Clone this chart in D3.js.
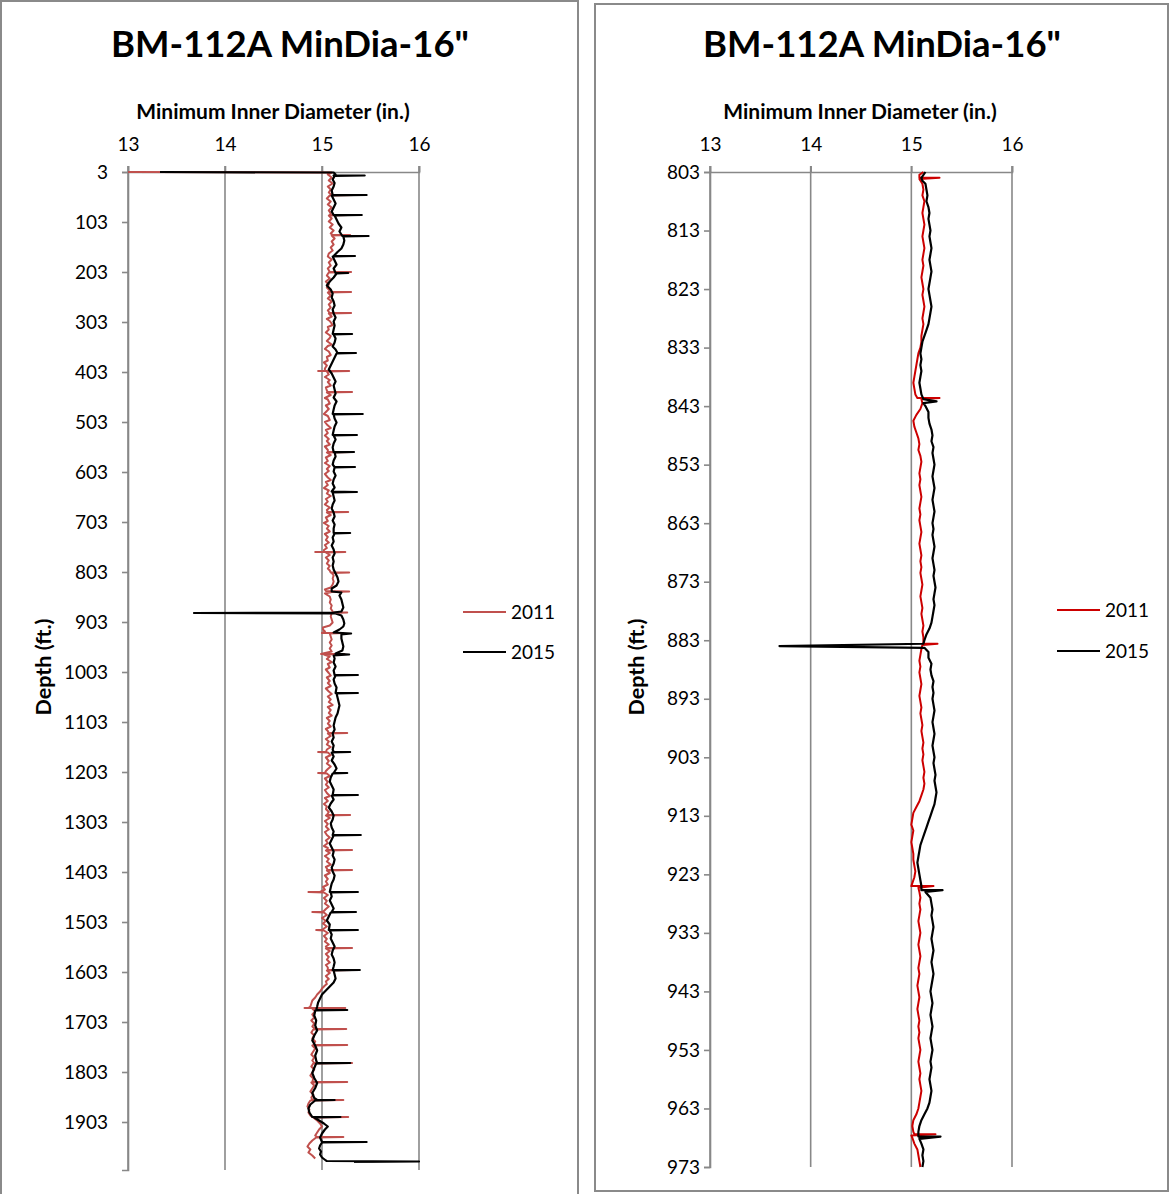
<!DOCTYPE html>
<html><head><meta charset="utf-8">
<script src="https://cdn.jsdelivr.net/npm/d3@7"></script>
<style>
body{margin:0;background:#fff;}
svg{display:block;}
text{font-family:Lato,"Carlito",sans-serif;fill:#000;}
</style>
</head><body>
<svg id="c" width="1171" height="1194"></svg>
<script>
const chartTitle = 'BM-112A MinDia-16"';
const xTitle = "Minimum Inner Diameter (in.)";
const yTitle = "Depth (ft.)";
const seriesNames = ["2011", "2015"];
const xTicks = [13, 14, 15, 16];
const leftDepthTicks = [3,103,203,303,403,503,603,703,803,903,1003,1103,1203,1303,1403,1503,1603,1703,1803,1903];
const rightDepthTicks = [803,813,823,833,843,853,863,873,883,893,903,913,923,933,943,953,963,973];

// [depth ft, min inner diameter in.]
const left2011 = [[3,13.0],[4,15.1],[8,15.06],[14,15.1],[20,15.07],[26,15.11],[32,15.06],[38,15.09],[44,15.07],[49,15.1],[49,15.33],[50,15.08],[56,15.05],[62,15.09],[68,15.06],[74,15.1],[80,15.07],[86,15.09],[89,15.08],[89,15.27],[90,15.07],[96,15.1],[102,15.07],[108,15.11],[114,15.08],[120,15.12],[126,15.09],[129,15.11],[129,15.29],[130,15.1],[136,15.13],[142,15.1],[148,15.12],[154,15.09],[160,15.11],[166,15.07],[172,15.06],[178,15.1],[184,15.07],[190,15.09],[196,15.06],[203,15.08],[203,15.3],[204,15.07],[210,15.05],[216,15.08],[222,15.04],[228,15.07],[234,15.05],[240,15.08],[243,15.07],[243,15.3],[244,15.06],[250,15.09],[256,15.06],[262,15.1],[268,15.07],[274,15.09],[280,15.06],[285,15.08],[285,15.3],[286,15.07],[292,15.1],[297,15.05],[301,15.08],[309,15.11],[313,15.06],[318,15.07],[324,15.04],[331,15.09],[335,15.08],[341,15.05],[348,15.1],[351,15.06],[357,15.03],[362,15.07],[369,15.09],[373,15.05],[380,15.06],[384,15.02],[390,15.05],[396,15.03],[401,15.03],[401,14.96],[401,15.28],[402,15.05],[408,15.07],[413,15.03],[419,15.08],[423,15.06],[430,15.09],[434,15.04],[440,15.05],[443,15.06],[443,15.31],[444,15.05],[449,15.09],[455,15.03],[458,15.06],[466,15.08],[470,15.04],[477,15.07],[481,15.05],[487,15.02],[491,15.06],[499,15.08],[503,15.03],[508,15.05],[515,15.09],[519,15.04],[525,15.06],[530,15.03],[537,15.07],[541,15.05],[548,15.08],[552,15.03],[559,15.06],[563,15.06],[563,15.3],[564,15.05],[569,15.09],[574,15.04],[581,15.06],[585,15.03],[591,15.08],[597,15.05],[601,15.07],[607,15.03],[614,15.06],[619,15.09],[623,15.04],[629,15.06],[635,15.02],[640,15.07],[646,15.05],[651,15.09],[657,15.04],[662,15.06],[668,15.03],[674,15.08],[679,15.05],[683,15.06],[683,15.27],[684,15.05],[689,15.09],[694,15.04],[701,15.06],[705,15.02],[711,15.07],[716,15.05],[722,15.08],[727,15.03],[733,15.06],[739,15.04],[744,15.07],[749,15.03],[755,15.05],[759,15.02],[763,15.02],[763,14.93],[763,15.24],[764,15.04],[769,15.08],[774,15.04],[780,15.07],[786,15.05],[791,15.08],[796,15.06],[800,15.08],[804,15.09],[804,15.28],[805,15.1],[810,15.12],[816,15.11],[822,15.12],[828,15.11],[834,15.09],[838,15.03],[841,15.04],[842,15.28],[843,15.1],[846,15.03],[852,15.08],[858,15.09],[864,15.08],[870,15.1],[876,15.09],[882,15.11],[884,15.11],[884,15.26],[885,15.1],[892,15.09],[898,15.1],[904,15.11],[910,15.08],[914,15.01],[918,15.01],[922,15.03],[925,15.0],[925,15.22],[926,15.08],[932,15.09],[938,15.1],[944,15.08],[950,15.1],[956,15.08],[962,15.1],[966,15.01],[967,14.99],[967,15.23],[968,15.02],[972,15.08],[977,15.05],[983,15.1],[987,15.06],[994,15.08],[998,15.04],[1005,15.07],[1010,15.09],[1014,15.05],[1021,15.08],[1025,15.06],[1031,15.09],[1036,15.04],[1042,15.07],[1047,15.1],[1052,15.06],[1058,15.09],[1063,15.07],[1069,15.11],[1073,15.06],[1079,15.09],[1085,15.07],[1090,15.1],[1095,15.05],[1101,15.08],[1106,15.06],[1112,15.09],[1117,15.04],[1121,15.06],[1125,15.07],[1125,15.26],[1126,15.06],[1131,15.09],[1137,15.04],[1142,15.07],[1148,15.05],[1153,15.09],[1158,15.05],[1163,15.04],[1163,14.96],[1164,15.06],[1169,15.09],[1174,15.04],[1181,15.07],[1186,15.05],[1192,15.09],[1197,15.06],[1201,15.04],[1205,15.03],[1205,14.96],[1206,15.05],[1211,15.08],[1216,15.03],[1223,15.06],[1228,15.04],[1234,15.07],[1239,15.03],[1245,15.05],[1251,15.08],[1255,15.03],[1261,15.06],[1267,15.02],[1272,15.05],[1277,15.04],[1283,15.07],[1289,15.05],[1289,15.29],[1290,15.04],[1295,15.08],[1301,15.03],[1307,15.06],[1312,15.04],[1318,15.07],[1323,15.03],[1329,15.05],[1334,15.08],[1340,15.04],[1345,15.06],[1351,15.02],[1355,15.06],[1359,15.05],[1359,15.31],[1360,15.04],[1365,15.08],[1371,15.03],[1377,15.07],[1382,15.05],[1388,15.09],[1393,15.04],[1399,15.06],[1399,15.31],[1400,15.05],[1405,15.08],[1410,15.03],[1417,15.06],[1422,15.04],[1428,15.06],[1433,15.01],[1438,15.03],[1443,14.98],[1443,14.86],[1444,15.02],[1449,15.06],[1455,15.02],[1461,15.05],[1466,15.03],[1472,15.07],[1477,15.04],[1481,15.02],[1483,15.0],[1483,14.9],[1484,15.02],[1489,15.05],[1495,15.0],[1501,15.04],[1506,15.01],[1512,15.05],[1516,15.02],[1519,15.0],[1519,14.94],[1520,15.02],[1525,15.06],[1531,15.02],[1537,15.05],[1542,15.03],[1548,15.07],[1552,15.04],[1555,15.05],[1555,15.31],[1556,15.04],[1561,15.08],[1567,15.04],[1573,15.07],[1578,15.05],[1584,15.08],[1589,15.04],[1594,15.06],[1599,15.06],[1599,15.31],[1600,15.05],[1605,15.08],[1611,15.04],[1617,15.07],[1622,15.04],[1627,15.05],[1630,15.03],[1636,15.0],[1642,14.98],[1648,14.95],[1654,14.93],[1660,14.9],[1666,14.89],[1672,14.88],[1675,14.86],[1675,14.82],[1675,15.24],[1676,14.9],[1682,14.93],[1688,14.9],[1694,14.92],[1700,14.89],[1706,14.92],[1712,14.9],[1717,14.93],[1717,15.25],[1718,14.91],[1724,14.89],[1730,14.92],[1736,14.9],[1742,14.93],[1749,14.91],[1749,15.26],[1750,14.9],[1756,14.93],[1762,14.91],[1768,14.89],[1774,14.92],[1780,14.9],[1785,14.92],[1785,15.31],[1786,14.91],[1792,14.89],[1798,14.92],[1804,14.9],[1810,14.88],[1816,14.91],[1823,14.9],[1823,15.26],[1824,14.89],[1830,14.92],[1836,14.9],[1842,14.88],[1848,14.91],[1854,14.89],[1859,14.9],[1859,15.22],[1860,14.88],[1866,14.86],[1872,14.85],[1878,14.87],[1884,14.86],[1890,14.88],[1893,14.9],[1893,15.27],[1894,14.91],[1900,14.95],[1906,14.98],[1912,15.0],[1918,14.97],[1924,14.95],[1930,14.93],[1933,14.95],[1933,15.22],[1934,14.94],[1940,14.9],[1946,14.87],[1952,14.85],[1958,14.88],[1964,14.86],[1970,14.9],[1976,14.93]];

const left2015 = [[3,13.33],[4,15.12],[8,15.14],[10,15.12],[10,15.44],[11,15.13],[18,15.11],[25,15.13],[32,15.12],[40,15.1],[49,15.11],[49,15.46],[50,15.1],[58,15.12],[66,15.14],[74,15.12],[82,15.1],[89,15.12],[89,15.41],[90,15.13],[98,15.15],[106,15.17],[114,15.2],[122,15.18],[131,15.21],[131,15.48],[132,15.22],[140,15.23],[148,15.22],[156,15.2],[163,15.16],[171,15.12],[171,15.34],[172,15.11],[180,15.13],[188,15.15],[196,15.12],[205,15.14],[205,15.27],[206,15.15],[214,15.12],[222,15.08],[230,15.05],[238,15.09],[246,15.11],[254,15.1],[262,15.12],[270,15.13],[278,15.11],[286,15.12],[294,15.14],[302,15.12],[310,15.13],[318,15.12],[327,15.11],[327,15.31],[328,15.12],[336,15.14],[344,15.13],[352,15.11],[358,15.14],[365,15.16],[365,15.35],[366,15.15],[374,15.13],[382,15.11],[390,15.09],[398,15.07],[406,15.1],[414,15.12],[422,15.14],[430,15.12],[438,15.13],[446,15.14],[454,15.12],[462,15.15],[470,15.13],[478,15.12],[487,15.11],[487,15.42],[488,15.12],[496,15.13],[504,15.15],[512,15.13],[520,15.12],[529,15.11],[529,15.36],[530,15.12],[538,15.14],[546,15.12],[554,15.11],[563,15.12],[563,15.33],[564,15.13],[572,15.14],[580,15.12],[588,15.11],[593,15.13],[593,15.34],[594,15.13],[602,15.12],[610,15.14],[618,15.12],[626,15.11],[634,15.13],[642,15.1],[643,15.36],[644,15.11],[652,15.12],[660,15.13],[668,15.11],[676,15.1],[684,15.12],[692,15.13],[700,15.11],[708,15.13],[716,15.12],[725,15.12],[725,15.29],[726,15.13],[734,15.11],[742,15.12],[750,15.1],[758,15.12],[766,15.13],[774,15.11],[782,15.12],[790,15.11],[798,15.12],[806,15.14],[814,15.16],[822,15.17],[830,15.15],[836,15.1],[842,15.1],[844,15.2],[850,15.18],[858,15.2],[866,15.21],[874,15.22],[882,15.2],[884,15.12],[885,13.68],[886,15.14],[890,15.2],[898,15.22],[906,15.23],[912,15.22],[918,15.18],[924,15.12],[926,15.3],[928,15.2],[936,15.2],[944,15.21],[952,15.22],[960,15.21],[966,15.14],[968,15.28],[970,15.12],[976,15.13],[984,15.12],[992,15.14],[1000,15.12],[1009,15.13],[1009,15.37],[1010,15.14],[1018,15.12],[1026,15.13],[1034,15.15],[1045,15.14],[1045,15.37],[1046,15.15],[1054,15.16],[1062,15.17],[1070,15.18],[1078,15.17],[1086,15.16],[1094,15.14],[1102,15.13],[1110,15.12],[1118,15.13],[1126,15.11],[1134,15.12],[1142,15.1],[1150,15.12],[1158,15.11],[1163,15.12],[1163,15.29],[1164,15.1],[1172,15.12],[1180,15.1],[1188,15.13],[1196,15.15],[1205,15.12],[1205,15.26],[1206,15.11],[1214,15.09],[1222,15.08],[1230,15.1],[1238,15.12],[1249,15.11],[1249,15.37],[1250,15.1],[1258,15.12],[1266,15.09],[1274,15.07],[1282,15.1],[1290,15.12],[1298,15.11],[1306,15.09],[1314,15.1],[1322,15.12],[1329,15.11],[1329,15.4],[1330,15.12],[1338,15.1],[1346,15.08],[1354,15.1],[1362,15.12],[1370,15.11],[1378,15.13],[1386,15.12],[1394,15.1],[1402,15.11],[1410,15.13],[1418,15.12],[1426,15.1],[1434,15.09],[1443,15.08],[1443,15.37],[1444,15.09],[1452,15.1],[1460,15.08],[1468,15.1],[1476,15.12],[1483,15.1],[1483,15.35],[1484,15.09],[1492,15.07],[1500,15.05],[1508,15.08],[1519,15.07],[1519,15.37],[1520,15.08],[1528,15.1],[1536,15.09],[1544,15.11],[1552,15.13],[1560,15.11],[1568,15.1],[1576,15.12],[1584,15.13],[1592,15.12],[1599,15.11],[1599,15.39],[1600,15.12],[1608,15.13],[1616,15.14],[1624,15.12],[1632,15.08],[1640,15.04],[1648,15.0],[1656,14.98],[1664,14.96],[1672,14.95],[1679,14.94],[1679,15.26],[1680,14.93],[1690,14.92],[1700,14.94],[1710,14.93],[1720,14.95],[1730,14.92],[1740,14.9],[1750,14.93],[1760,14.95],[1770,14.93],[1780,14.94],[1785,14.95],[1785,15.29],[1786,14.94],[1795,14.92],[1805,14.9],[1815,14.92],[1825,14.95],[1835,14.93],[1845,14.9],[1855,14.92],[1859,14.95],[1859,15.13],[1860,14.93],[1868,14.88],[1876,14.86],[1884,14.87],[1893,14.9],[1893,15.19],[1894,14.92],[1900,14.97],[1906,15.02],[1912,15.06],[1918,15.03],[1926,15.0],[1934,14.98],[1943,15.0],[1943,15.46],[1944,15.0],[1950,14.98],[1956,14.97],[1962,14.99],[1968,14.98],[1974,15.0],[1980,15.04],[1981,15.05],[1982,16.0],[1983,15.33]];

const right2011 = [[803,15.12],[803.5,15.08],[804,15.08],[804,15.28],[804.2,15.08],[805,15.11],[806,15.12],[807,15.11],[808,15.13],[809,15.12],[810,15.11],[811,15.12],[812,15.13],[813,15.12],[814,15.11],[815,15.12],[816,15.13],[817,15.12],[818,15.11],[819,15.12],[820,15.11],[821,15.1],[822,15.11],[823,15.12],[824,15.11],[825,15.12],[826,15.13],[827,15.12],[828,15.11],[829,15.12],[830,15.11],[831,15.1],[832,15.1],[833,15.09],[834,15.07],[835,15.06],[836,15.05],[837,15.04],[838,15.03],[839,15.02],[840,15.03],[841,15.04],[841.6,15.06],[841.6,15.28],[841.8,15.1],[842.5,15.11],[843.5,15.09],[844.5,15.05],[845.5,15.02],[846.5,15.03],[847.5,15.05],[848.5,15.07],[849.5,15.08],[850.5,15.07],[851.5,15.09],[852.5,15.1],[853.5,15.09],[854.5,15.08],[855.5,15.09],[856.5,15.08],[857.5,15.09],[858.5,15.1],[859.5,15.09],[860.5,15.08],[861.5,15.09],[862.5,15.08],[863.5,15.09],[864.5,15.1],[865.5,15.09],[866.5,15.08],[867.5,15.09],[868.5,15.1],[869.5,15.09],[870.5,15.1],[871.5,15.09],[872.5,15.1],[873.5,15.11],[874.5,15.1],[875.5,15.09],[876.5,15.1],[877.5,15.11],[878.5,15.1],[879.5,15.11],[880.5,15.12],[881.5,15.11],[882.5,15.12],[883.6,15.12],[883.6,15.26],[883.8,15.11],[884.5,15.1],[885.5,15.09],[886.5,15.08],[887.5,15.09],[888.5,15.08],[889.5,15.09],[890.5,15.1],[891.5,15.09],[892.5,15.08],[893.5,15.09],[894.5,15.1],[895.5,15.09],[896.5,15.1],[897.5,15.11],[898.5,15.1],[899.5,15.11],[900.5,15.12],[901.5,15.11],[902.5,15.12],[903.5,15.11],[904.5,15.12],[905.5,15.13],[906.5,15.12],[907.5,15.13],[908.5,15.12],[909.5,15.1],[910.5,15.08],[911.5,15.05],[912.5,15.02],[913.5,15.01],[914.5,15.0],[915.5,15.02],[916.5,15.01],[917.5,15.0],[918.5,15.01],[919.5,15.02],[920.5,15.02],[921.5,15.03],[922.5,15.04],[923.5,15.03],[924.5,15.01],[925,15.0],[925,15.22],[925.3,15.07],[926,15.08],[927,15.09],[928,15.08],[929,15.09],[930,15.08],[931,15.07],[932,15.08],[933,15.09],[934,15.08],[935,15.07],[936,15.08],[937,15.09],[938,15.08],[939,15.07],[940,15.08],[941,15.07],[942,15.06],[943,15.07],[944,15.08],[945,15.07],[946,15.06],[947,15.07],[948,15.08],[949,15.07],[950,15.08],[951,15.07],[952,15.08],[953,15.09],[954,15.08],[955,15.07],[956,15.08],[957,15.09],[958,15.08],[959,15.09],[960,15.1],[961,15.09],[962,15.08],[963,15.07],[964,15.05],[965,15.02],[966,15.01],[967,15.02],[967.4,15.03],[967.4,15.24],[967.6,15.0],[968,15.01],[969,15.03],[970,15.06],[971,15.07],[972,15.08],[973,15.09]];

const right2015 = [[803,15.14],[804,15.1],[804.5,15.11],[805,15.14],[806,15.15],[807,15.16],[808,15.15],[809,15.17],[810,15.18],[811,15.17],[812,15.18],[813,15.19],[814,15.18],[815,15.19],[816,15.2],[817,15.19],[818,15.18],[819,15.19],[820,15.2],[821,15.19],[822,15.18],[823,15.17],[824,15.18],[825,15.19],[826,15.2],[827,15.19],[828,15.18],[829,15.17],[830,15.15],[831,15.13],[832,15.11],[833,15.1],[834,15.09],[835,15.1],[836,15.09],[837,15.1],[838,15.09],[839,15.08],[840,15.09],[841,15.1],[841.8,15.12],[842.2,15.25],[842.5,15.12],[843,15.14],[844,15.17],[845,15.17],[846,15.18],[847,15.2],[848,15.21],[849,15.2],[850,15.22],[851,15.21],[852,15.22],[853,15.23],[854,15.22],[855,15.21],[856,15.22],[857,15.23],[858,15.22],[859,15.21],[860,15.22],[861,15.23],[862,15.22],[863,15.21],[864,15.22],[865,15.21],[866,15.22],[867,15.23],[868,15.22],[869,15.21],[870,15.22],[871,15.23],[872,15.22],[873,15.23],[874,15.24],[875,15.23],[876,15.22],[877,15.23],[878,15.22],[879,15.21],[880,15.2],[881,15.18],[882,15.15],[883,15.13],[883.6,15.12],[884,13.69],[884.3,15.13],[885,15.17],[886,15.17],[887,15.2],[888,15.19],[889,15.2],[890,15.22],[891,15.21],[892,15.22],[893,15.21],[894,15.22],[895,15.23],[896,15.22],[897,15.21],[898,15.22],[899,15.23],[900,15.22],[901,15.21],[902,15.22],[903,15.23],[904,15.22],[905,15.23],[906,15.24],[907,15.23],[908,15.24],[909,15.25],[910,15.24],[911,15.23],[912,15.21],[913,15.19],[914,15.17],[915,15.15],[916,15.13],[917,15.11],[918,15.09],[919,15.08],[920,15.07],[921,15.06],[922,15.07],[923,15.08],[924,15.09],[925,15.1],[925.7,15.1],[925.7,15.31],[926,15.14],[927,15.19],[928,15.2],[929,15.21],[930,15.2],[931,15.21],[932,15.22],[933,15.21],[934,15.2],[935,15.21],[936,15.22],[937,15.21],[938,15.2],[939,15.21],[940,15.22],[941,15.21],[942,15.2],[943,15.19],[944,15.2],[945,15.21],[946,15.2],[947,15.19],[948,15.2],[949,15.21],[950,15.2],[951,15.19],[952,15.2],[953,15.21],[954,15.2],[955,15.19],[956,15.2],[957,15.19],[958,15.18],[959,15.19],[960,15.2],[961,15.19],[962,15.18],[963,15.16],[964,15.13],[965,15.1],[966,15.08],[967,15.07],[967.8,15.07],[967.8,15.29],[968.2,15.08],[969,15.1],[970,15.12],[971,15.11],[972,15.12],[973,15.11]];

const svg = d3.select("#c");
const GRID = "#888888";

function drawPanel(cfg) {
  const g = svg.append("g");
  g.append("rect").attr("x", cfg.frame[0]).attr("y", cfg.frame[1])
    .attr("width", cfg.frame[2]).attr("height", cfg.frame[3])
    .attr("fill", "#fff").attr("stroke", "#8a8a8a").attr("stroke-width", 2);

  const x = d3.scaleLinear().domain([13, 16]).range([cfg.x0, cfg.x1]);
  const y = d3.scaleLinear().domain(cfg.dom).range([cfg.y0, cfg.y1]);

  // title
  g.append("text").attr("x", cfg.titleX).attr("y", 57).attr("text-anchor", "middle")
    .attr("font-size", 36.5).attr("font-weight", "bold").text(chartTitle);
  // x axis title
  g.append("text").attr("x", cfg.xTitleX).attr("y", 119).attr("text-anchor", "middle")
    .attr("font-size", 21).attr("font-weight", "bold").text(xTitle);
  // y axis title
  g.append("text").attr("transform", `translate(${cfg.yTitleX},667) rotate(-90)`)
    .attr("text-anchor", "middle").attr("font-size", 21.5).attr("font-weight", "bold").text(yTitle);

  // vertical gridlines
  g.selectAll(".vg").data(xTicks).enter().append("line")
    .attr("x1", d => x(d)).attr("x2", d => x(d))
    .attr("y1", cfg.y0 - 6).attr("y2", cfg.y1)
    .attr("stroke", GRID).attr("stroke-width", 1.6);

  // top axis
  const xa = g.append("g").attr("transform", `translate(0,${cfg.y0})`)
    .call(d3.axisTop(x).tickValues(xTicks).tickSize(6).tickPadding(15).tickFormat(d3.format("d")));
  xa.select(".domain").attr("stroke", GRID).attr("stroke-width", 1.6);
  xa.selectAll(".tick line").attr("stroke", GRID).attr("stroke-width", 1.6);
  xa.selectAll("text").attr("font-size", 19).attr("font-family", "Lato").attr("fill", "#000");

  // left axis
  const ya = g.append("g").attr("transform", `translate(${cfg.x0},0)`)
    .call(d3.axisLeft(y).tickValues(cfg.yTicks).tickSize(6).tickPadding(cfg.tickPad).tickFormat(d3.format("d")));
  ya.select(".domain").attr("stroke", GRID).attr("stroke-width", 1.6);
  ya.selectAll(".tick line").attr("stroke", GRID).attr("stroke-width", 1.6);
  ya.selectAll("text").attr("font-size", 19).attr("font-family", "Lato").attr("fill", "#000");

  const line = d3.line().x(d => x(d[1])).y(d => y(d[0]));
  g.append("path").datum(cfg.s2011).attr("d", line).attr("fill", "none")
    .attr("stroke", cfg.c2011).attr("stroke-width", 2).attr("stroke-linejoin", "round");
  g.append("path").datum(cfg.s2015).attr("d", line).attr("fill", "none")
    .attr("stroke", "#000").attr("stroke-width", 2.2).attr("stroke-linejoin", "round");

  // legend
  const colors = [cfg.c2011, "#000"];
  seriesNames.forEach((n, i) => {
    const ly = cfg.legendY[i];
    g.append("line").attr("x1", cfg.legendX).attr("x2", cfg.legendX + 43)
      .attr("y1", ly).attr("y2", ly).attr("stroke", colors[i]).attr("stroke-width", 2);
    g.append("text").attr("x", cfg.legendX + 48).attr("y", ly + 6.5)
      .attr("font-size", 19).text(n);
  });
}

drawPanel({
  frame: [1, 1, 577, 1210], x0: 128, x1: 419, y0: 172, y1: 1170, dom: [3, 1999],
  yTicks: leftDepthTicks, tickPad: 14, c2011: "#C0504D", s2011: left2011, s2015: left2015,
  titleX: 290, xTitleX: 273, yTitleX: 51, legendX: 463, legendY: [612, 652]
});
drawPanel({
  frame: [595, 4, 573, 1187], x0: 710, x1: 1012, y0: 172, y1: 1167, dom: [803, 973],
  yTicks: rightDepthTicks, tickPad: 4, c2011: "#CC0000", s2011: right2011, s2015: right2015,
  titleX: 882, xTitleX: 860, yTitleX: 644, legendX: 1057, legendY: [610, 651]
});
</script>
</body></html>
